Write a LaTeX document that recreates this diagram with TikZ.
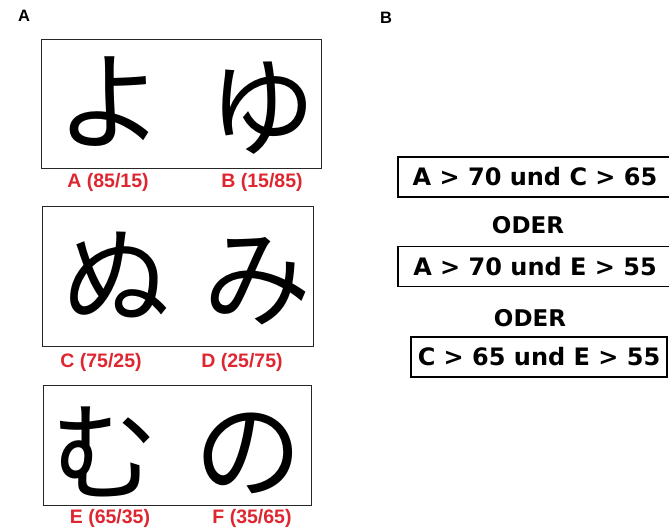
\documentclass[tikz,border=0pt]{standalone}
\usepackage{fontspec}
\setmainfont{Liberation Sans}
\newfontfamily\kanafont{Noto Sans CJK JP}
\newfontfamily\rulefont{DejaVu Sans}
\usepackage{tikz}
\definecolor{scorered}{RGB}{222,38,48}

\begin{document}
\begin{tikzpicture}[x=1pt, y=-1pt,
  panel/.style={font=\bfseries\fontsize{16.5}{16.5}\selectfont, inner sep=0pt},
  kanabox/.style={draw=black!85, line width=1pt},
  glyph/.style={font=\kanafont\fontsize{108}{108}\selectfont, inner sep=0pt},
  score/.style={text=scorered, font=\bfseries\fontsize{19.5}{19.5}\selectfont, inner sep=0pt},
  rulebox/.style={draw, line width=1.6pt, minimum height=40pt, inner sep=0pt,
    font=\rulefont\bfseries\fontsize{24}{24}\selectfont},
  oder/.style={font=\rulefont\bfseries\fontsize{23}{23}\selectfont, inner sep=0pt}]

\useasboundingbox (0,0) rectangle (669,528);

\node[panel] (pA) at (24,16) {A};
\node[panel] (pB) at (386,18) {B};

\foreach \name/\cx/\cy/\w/\h in {box1/181/103.5/280/129, box2/177.5/276/271/140, box3/177/445/268/120}
\node[kanabox, minimum width=\w pt, minimum height=\h pt] (\name) at (\cx,\cy) {};

\foreach \name/\g/\gx/\gy/\l/\p/\q/\sx/\sy in {yo/よ/110/102/A/85/15/108/182, yu/ゆ/262/108/B/15/85/262/182, nu/ぬ/116/275/C/75/25/101/362, mi/み/257/281/D/25/75/242/362, mu/む/104/452/E/65/35/110/518, no/の/248/453/F/35/65/252/518}
{
\node[glyph] (\name) at (\gx,\gy) {\g};
\node[score] (\name-s) at (\sx,\sy) {\l\ (\p/\q)};
}

\node[rulebox, minimum width=274pt] (r1) at (535,177) {A > 70 und C > 65};
\node[oder] (o1) at (528,225) {ODER};
\node[rulebox, minimum width=274pt] (r2) at (535,266.5) {A > 70 und E > 55};
\node[oder] (o2) at (530,318) {ODER};
\node[rulebox, minimum width=256pt] (r3) at (539,357) {C > 65 und E > 55};

\end{tikzpicture}
\end{document}
